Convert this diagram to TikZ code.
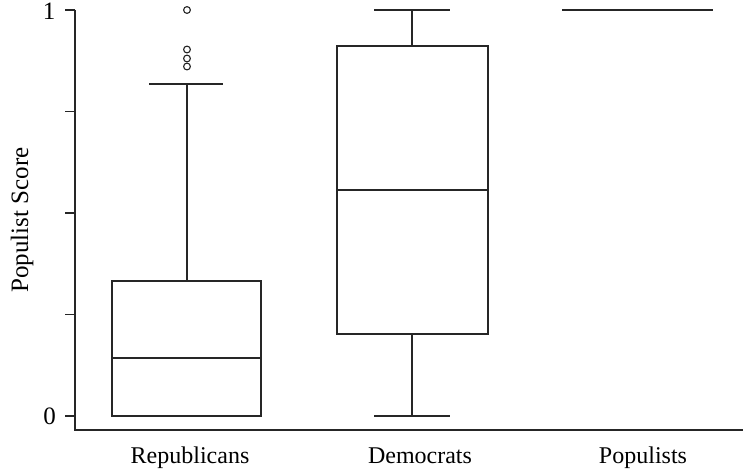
\documentclass[tikz,border=0pt]{standalone}
\usepackage{fontspec}
\setmainfont{Liberation Serif}
\begin{document}
\begin{tikzpicture}[x=1pt,y=1pt,
  ln/.style={line width=1.3pt, draw=black!85},
  lbl/.style={font=\fontsize{24}{27}\selectfont, anchor=base, inner sep=0pt},
  outl/.style={line width=1.1pt, draw=black!85}]
\useasboundingbox (0,0) rectangle (743,472);
% axes
\coordinate (ytop) at (75,462);
\coordinate (org) at (75,42);
\coordinate (xend) at (743,42);
\draw[ln] (ytop) -- (org) -- (xend);
\foreach \v in {56,157.5,259,360.5,462} \draw[ln] (65,\v) -- (75,\v);
\node[lbl, font=\fontsize{25}{28}\selectfont] (one) at (49,452) {1};
\node[lbl, font=\fontsize{25}{28}\selectfont] (zero) at (49.5,48) {0};
\node[lbl, rotate=90, font=\fontsize{25}{28}\selectfont] (ylab) at (28,252) {Populist Score};
% Republicans
\draw[ln] (112,56) rectangle (261,191);
\draw[ln] (112,114) -- (261,114);
\coordinate (r1) at (187,191);
\coordinate (r2) at (187,388);
\draw[ln] (r1) -- (r2);
\draw[ln] (149,388) -- (223,388);
\foreach \v in {462,422.5,413.5,405.5} \draw[outl] (187,\v) circle (3.4);
% Democrats
\draw[ln] (337,138) rectangle (488,426);
\draw[ln] (337,282) -- (488,282);
\coordinate (d1) at (412,426);
\coordinate (d2) at (412,462);
\coordinate (d3) at (412,138);
\coordinate (d4) at (412,56);
\draw[ln] (d1) -- (d2);
\draw[ln] (d3) -- (d4);
\draw[ln] (374,462) -- (450,462);
\draw[ln] (374,56) -- (450,56);
% Populists
\coordinate (p1) at (562,462);
\coordinate (p2) at (713,462);
\draw[ln] (p1) -- (p2);
% labels
\node[lbl] (rep) at (190,9) {Republicans};
\node[lbl] (dem) at (420,9) {Democrats};
\node[lbl] (pop) at (643,9) {Populists};
\end{tikzpicture}
\end{document}
